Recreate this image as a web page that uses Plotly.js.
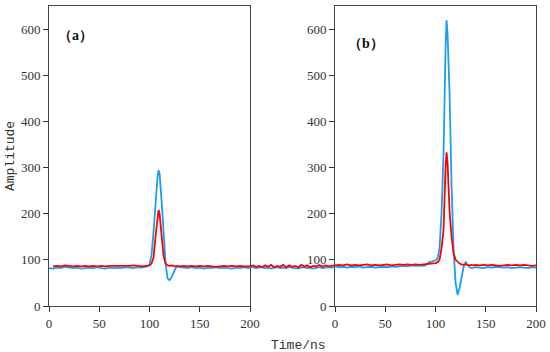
<!DOCTYPE html>
<html><head><meta charset="utf-8">
<script src="https://cdn.plot.ly/plotly-3.0.1.min.js"></script>
<style>body{margin:0;padding:0;background:#fff}#chart{width:550px;height:352px}</style>
</head><body><div id="chart"></div>
<script>
// Panel (a)
var timeA = [0,4,8,12,16,20,24,28,32,36,40,44,48,52,56,60,64,68,72,76,80,84,88,92,96,
  98,100,102,104,106,108,109,110,112,114,116,118,120,122,124,126,128,130,
  134,138,142,146,150,154,158,162,166,170,174,178,182,186,190,194,198,200];
var blueA = [82,81,83,82,85,83,82,83,81,82,83,82,84,82,81,83,82,83,82,84,83,82,84,83,85,
  86,90,110,160,225,280,294,288,230,150,92,60,56,62,72,82,86,84,
  83,82,84,82,83,81,83,82,84,82,83,82,81,83,82,84,82,83];
var redA = [null,86,87,86,88,87,86,87,86,87,86,87,86,87,86,87,87,86,87,86,87,88,87,86,87,
  87,88,92,105,150,195,208,200,150,108,92,88,87,88,87,86,87,86,
  87,86,87,86,87,86,87,86,85,86,87,86,87,86,87,86,87,86];
// Trace continuation between panels
var timeGap = [200,203,206,209,212,215,218,221,224,227,230,233,236,239,242,245,248,251,254,257,260,263,266,269,272,275,278,281,284];
var blueGap = [83,84,82,83,84,82,83,81,83,84,82,83,82,84,83,82,81,83,84,82,83,81,83,84,82,83,84,83,84];
var redGap  = [86,88,85,87,84,88,85,89,84,87,85,89,84,88,85,87,84,89,85,88,84,87,86,89,85,88,86,87,88];
// Panel (b)
var timeB = [0,4,8,12,16,20,24,28,32,36,40,44,48,52,56,60,64,68,72,76,80,84,88,
  90,92,94,96,98,100,102,104,106,108,110,111,
  112,114,116,118,120,122,124,126,128,130,132,134,136,138,140,
  144,148,152,156,160,164,168,172,176,180,184,188,192,196,200];
var blueB = [86,84,85,83,85,84,86,83,84,85,83,84,85,84,86,85,86,87,86,88,87,88,87,
  88,92,95,96,97,99,103,125,200,330,560,619,
  590,460,260,120,50,24,40,65,85,95,90,84,82,83,84,
  83,82,84,83,85,84,83,84,82,83,84,83,82,84,83];
var redB = [88,89,88,90,88,89,88,89,90,88,89,88,89,90,88,89,90,89,90,89,90,89,90,
  90,90,91,91,92,93,95,100,125,165,300,333,
  310,205,150,115,100,95,92,90,89,90,89,88,89,88,89,
  88,89,88,89,88,87,88,89,88,89,88,89,88,87,88];
var xTicks = [0,50,100,150,200];
var yTicks = [0,100,200,300,400,500,600];
var panelLabels = ['（a）','（b）'];

var BLUE = '#1a9ff0', RED = '#ff0000';
function tr(x, y, c, xa) {
  return {x: x, y: y, type: 'scatter', mode: 'lines', xaxis: xa, yaxis: 'y' + (xa === 'x2' ? '2' : ''),
    line: {color: c, width: 1.8}, hoverinfo: 'skip', showlegend: false, connectgaps: false};
}
var data = [
  tr(timeA, blueA, BLUE, 'x'), tr(timeA, redA, RED, 'x'),
  tr(timeGap, blueGap, BLUE, 'x3'), tr(timeGap, redGap, RED, 'x3'),
  tr(timeB, blueB, BLUE, 'x2'), tr(timeB, redB, RED, 'x2')
];
var SERIF = 'Liberation Serif';
function xax(dom, anchor) {
  return {domain: dom, range: [0, 200], anchor: anchor, tickvals: xTicks, ticks: 'outside', ticklen: 5,
    tickcolor: '#333', showline: true, linecolor: '#444', linewidth: 1, mirror: true,
    showgrid: false, zeroline: false, tickfont: {family: SERIF, size: 13, color: '#333'}};
}
function yax(anchor) {
  return {domain: [0, 1], range: [0, 650], anchor: anchor, tickvals: yTicks, ticks: 'outside', ticklen: 5,
    tickcolor: '#333', showline: true, linecolor: '#444', linewidth: 1, mirror: true,
    showgrid: false, zeroline: false, tickfont: {family: SERIF, size: 13, color: '#333'}};
}
var d1 = (250 - 49) / 487, d2 = (335 - 49) / 487;
var layout = {
  width: 550, height: 352,
  font: {family: SERIF, size: 13, color: '#333'},
  margin: {l: 49, r: 14, t: 6, b: 46},
  paper_bgcolor: '#fff', plot_bgcolor: '#fff',
  xaxis: xax([0, d1], 'y'),
  yaxis: yax('x'),
  xaxis2: xax([d2, 1], 'y2'),
  yaxis2: yax('x2'),
  xaxis3: {domain: [d1, d2], range: [200, 200 + (335 - 250) / 1.005], anchor: 'y', visible: false},
  annotations: [
    {text: '<b>' + panelLabels[0] + '</b>', xref: 'x', yref: 'y', x: 26, y: 586, showarrow: false,
      font: {family: SERIF, size: 14, color: '#111'}},
    {text: '<b>' + panelLabels[1] + '</b>', xref: 'x2', yref: 'y2', x: 31, y: 569, showarrow: false,
      font: {family: SERIF, size: 14, color: '#111'}},
    {text: 'Time/ns', xref: 'paper', yref: 'paper', x: (298 - 49) / 487, y: -0.1, yanchor: 'top',
      showarrow: false, font: {family: 'Liberation Mono', size: 13, color: '#333'}},
    {text: 'Amplitude', xref: 'paper', yref: 'paper', x: -0.08, y: 0.5, textangle: -90,
      xanchor: 'center', showarrow: false, font: {family: 'Liberation Mono', size: 13, color: '#333'}}
  ]
};
Plotly.newPlot('chart', data, layout, {staticPlot: true, displayModeBar: false});
</script></body></html>
